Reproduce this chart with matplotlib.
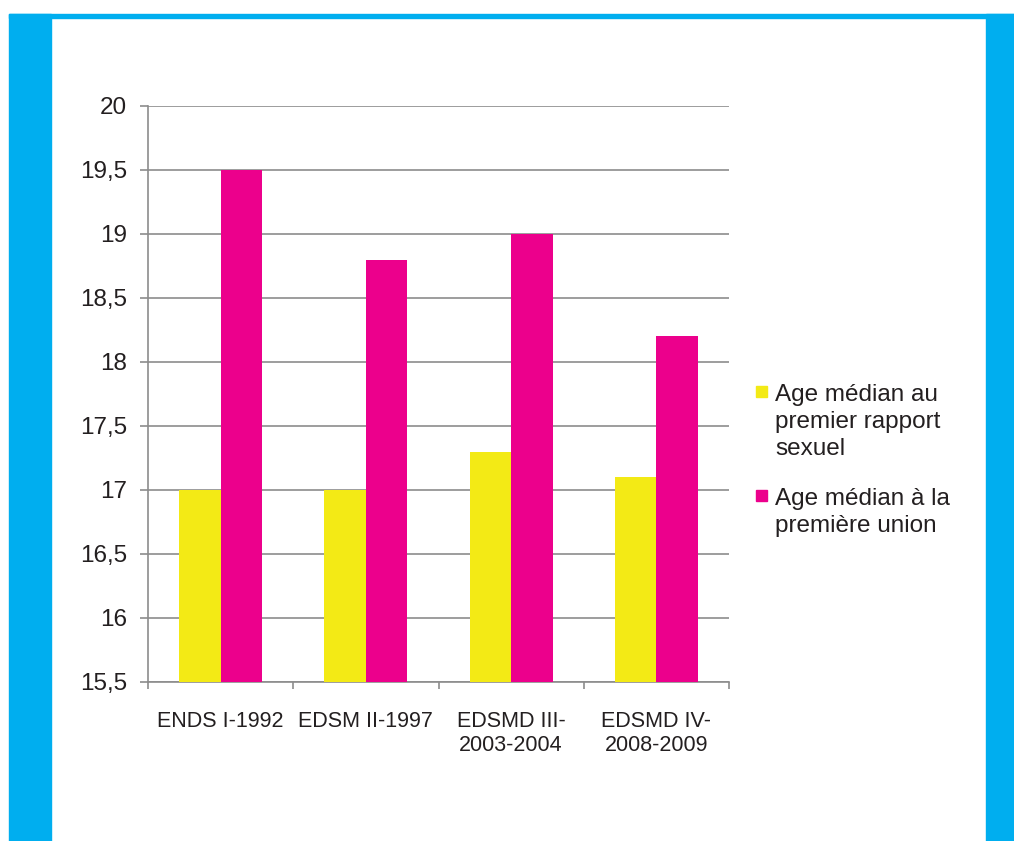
import numpy as np
import matplotlib
matplotlib.use('Agg')
import matplotlib.pyplot as plt
from matplotlib.patches import Rectangle

# data
surveys = ['ENDS I-1992', 'EDSM II-1997', 'EDSMD III-\n2003-2004', 'EDSMD IV-\n2008-2009']
age_rapport = [17.0, 17.0, 17.3, 17.1]
age_union = [19.5, 18.8, 19.0, 18.2]
series_names = ['Age médian au\npremier rapport\nsexuel', 'Age médian à la\npremière union']
yticks = [15.5, 16, 16.5, 17, 17.5, 18, 18.5, 19, 19.5, 20]

plt.rcParams['font.family'] = ['Liberation Sans', 'DejaVu Sans']
txt = '#231f20'
grey = '#8c8c8c'
blue = '#00aeef'
colors = ['#f3ea15', '#ec008c']

fig = plt.figure(figsize=(10.14, 8.41), dpi=100)
W, H = 1014., 841.
# blue frame
fig.patches.append(Rectangle((9/W, 0), 42/W, 1-14/H, transform=fig.transFigure, color=blue, zorder=0))
fig.patches.append(Rectangle((9/W, 1-18/H), 1-9/W, 4/H, transform=fig.transFigure, color=blue, zorder=0))
fig.patches.append(Rectangle((986/W, 0), 28/W, 1-14/H, transform=fig.transFigure, color=blue, zorder=0))

ax = fig.add_axes([148/W, 1-682/H, 581/W, 576/H])
x = np.arange(len(surveys))
w = 2/7.
ax.bar(x - w/2, np.array(age_rapport) - 15.5, w, bottom=15.5, color=colors[0], zorder=3)
ax.bar(x + w/2, np.array(age_union) - 15.5, w, bottom=15.5, color=colors[1], zorder=3)

ax.set_xlim(-0.5, 3.5)
ax.set_ylim(15.5, 20)
ax.set_yticks(yticks)
ax.set_yticklabels([('%g' % v).replace('.', ',') for v in yticks])
ax.yaxis.grid(True, color=grey, lw=1.2, zorder=0)
ax.set_xticks(np.arange(-0.5, 4, 1))
ax.set_xticklabels([])
ax.set_xticks(x, minor=True)
ax.set_xticklabels(surveys, minor=True, fontsize=15.5, color=txt, linespacing=1.2)
ax.tick_params(axis='x', which='minor', length=0, pad=21)
ax.tick_params(axis='x', which='major', length=5, color=grey, width=1.2)
ax.tick_params(axis='y', length=6, color=grey, width=1.2, labelsize=17.5, labelcolor=txt, pad=9)
for s in ['top', 'right']:
    ax.spines[s].set_visible(False)
for s in ['left', 'bottom']:
    ax.spines[s].set_color(grey)
    ax.spines[s].set_linewidth(1.2)

# legend, markers aligned with the first line of each entry
leg_top = [384, 488]
for name, col, top in zip(series_names, colors, leg_top):
    fig.patches.append(Rectangle((756/W, 1-(top+13)/H), 11/W, 11/H, transform=fig.transFigure, color=col))
    fig.text(775/W, 1-top/H, name, fontsize=17.5, color=txt, va='top', ha='left', linespacing=1.3)

fig.savefig('out.png', dpi=100, facecolor='white')
